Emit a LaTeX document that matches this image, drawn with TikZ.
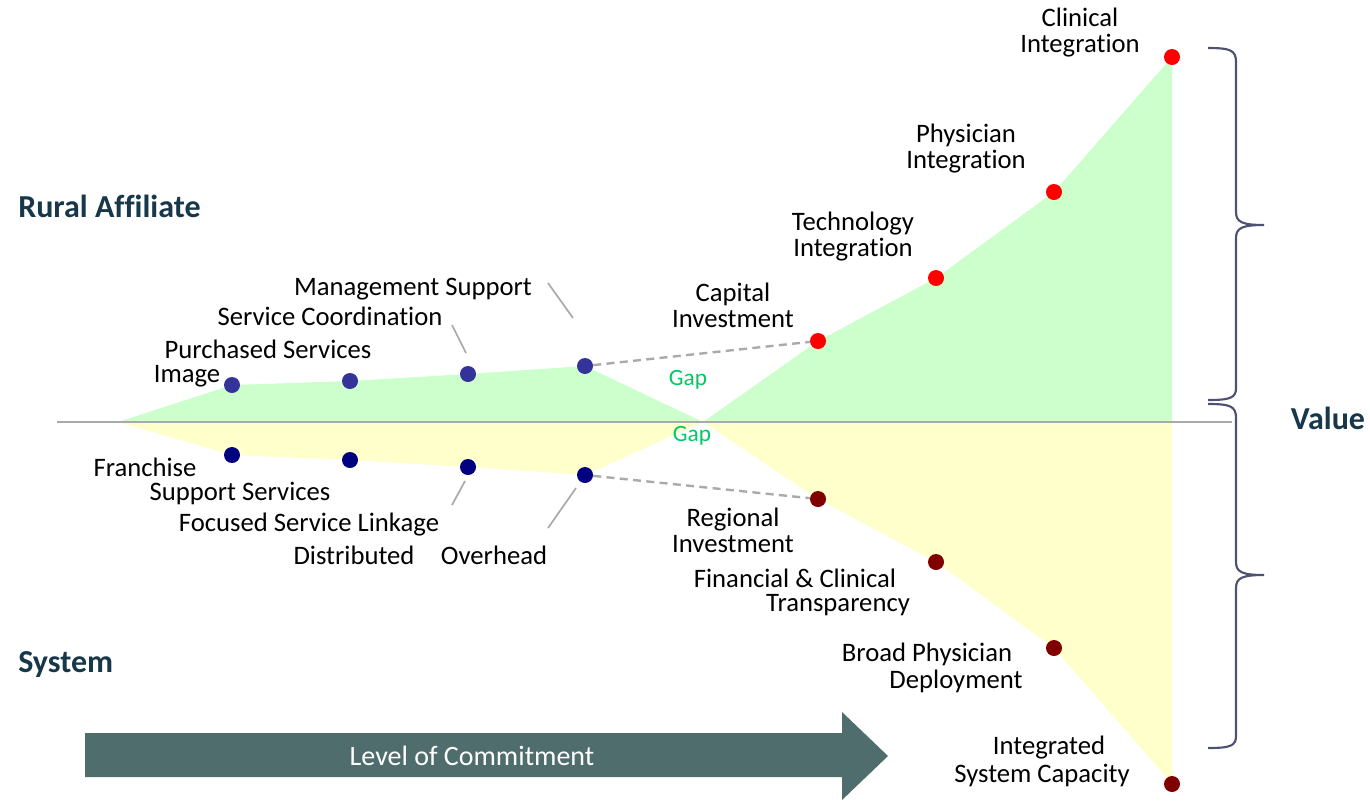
\documentclass[tikz,border=0pt]{standalone}
\usepackage{fontspec}
\setmainfont{Carlito}[Ligatures=NoCommon]
\definecolor{upfill}{RGB}{204,255,204}
\definecolor{lowfill}{RGB}{255,255,204}
\definecolor{affdot}{RGB}{51,51,153}
\definecolor{sysdot}{RGB}{0,0,128}
\definecolor{reddot}{RGB}{255,0,0}
\definecolor{maroondot}{RGB}{128,0,0}
\definecolor{headcol}{RGB}{23,55,74}
\definecolor{gapcol}{RGB}{0,200,100}
\definecolor{arrowcol}{RGB}{79,109,109}
\definecolor{bracecol}{RGB}{77,82,117}
\definecolor{leadcol}{RGB}{170,170,170}
\begin{document}
\begin{tikzpicture}[x=0.75pt,y=-0.75pt,
  dot/.style={circle,inner sep=0pt,minimum size=12pt},
  lbl/.style={font=\fontsize{20pt}{19.5pt}\selectfont,align=center,inner sep=0pt},
  head/.style={font=\bfseries\fontsize{24pt}{26pt}\selectfont,text=headcol,inner sep=0pt},
  gaplbl/.style={font=\fontsize{17.5pt}{19pt}\selectfont,text=gapcol,inner sep=0pt},
  lead/.style={draw=leadcol,line width=1.3pt},
  dashlead/.style={draw=leadcol,line width=1.8pt,dash pattern=on 6pt off 4pt},
  bracepath/.style={draw=bracecol,line width=1.6pt}]
\useasboundingbox (0,0) rectangle (1370,801);

% shaded bands
\fill[upfill] (118,422) -- (232,385) -- (350,381) -- (468,374) -- (585,366) -- (703,422)
  -- (818,341) -- (936,278) -- (1054,192) -- (1172,57) -- (1172,422) -- cycle;
\fill[lowfill] (118,422) -- (232,455) -- (350,460) -- (468,467) -- (585,475) -- (703,422)
  -- (818,499) -- (936,562) -- (1054,648) -- (1172,784) -- (1172,422) -- cycle;

% centre axis
\coordinate (axL) at (57,422);
\coordinate (axR) at (1232,422);
\draw[leadcol,line width=0.8pt] (axL) -- (axR);

% milestone dots
\node[dot,fill=affdot] (a1) at (232,385) {};
\node[dot,fill=affdot] (a2) at (350,381) {};
\node[dot,fill=affdot] (a3) at (468,374) {};
\node[dot,fill=affdot] (a4) at (585,366) {};
\node[dot,fill=reddot] (r1) at (818,341) {};
\node[dot,fill=reddot] (r2) at (936,278) {};
\node[dot,fill=reddot] (r3) at (1054,192) {};
\node[dot,fill=reddot] (r4) at (1172,57) {};
\node[dot,fill=sysdot] (s1) at (232,455) {};
\node[dot,fill=sysdot] (s2) at (350,460) {};
\node[dot,fill=sysdot] (s3) at (468,467) {};
\node[dot,fill=sysdot] (s4) at (585,475) {};
\node[dot,fill=maroondot] (m1) at (818,499) {};
\node[dot,fill=maroondot] (m2) at (936,562) {};
\node[dot,fill=maroondot] (m3) at (1054,648) {};
\node[dot,fill=maroondot] (m4) at (1172,784) {};

% dashed gap links
\draw[dashlead] (a4) -- (r1);
\draw[dashlead] (s4) -- (m1);

% leader lines
\coordinate (ldMS) at (548,283);
\coordinate (ldMSe) at (573,318);
\coordinate (ldSC) at (452,325);
\coordinate (ldSCe) at (466,353);
\coordinate (ldFS) at (452,505);
\coordinate (ldFSe) at (465,481);
\coordinate (ldOH) at (548,528);
\coordinate (ldOHe) at (576,488);
\draw[lead] (ldMS) -- (ldMSe);
\draw[lead] (ldSC) -- (ldSCe);
\draw[lead] (ldFS) -- (ldFSe);
\draw[lead] (ldOH) -- (ldOHe);

% upper labels
\node[lbl] (tCI) at (1080,33) {Clinical\\Integration};
\node[lbl] (tPI) at (966,149) {Physician\\Integration};
\node[lbl] (tTI) at (853,237) {Technology\\Integration};
\node[lbl] (tCap) at (733,305) {Capital\\Investment};
\node[lbl] (tMS) at (413,289) {Management Support};
\node[lbl] (tSC) at (330,316) {Service Coordination};
\node[lbl] (tPS) at (268,349) {Purchased Services};
\node[lbl] (tIm) at (187,376) {Image};
\node[gaplbl] (g1) at (688,380) {Gap};
\node[gaplbl] (g2) at (692,436) {Gap};

% lower labels
\node[lbl] (tFr) at (145,467) {Franchise};
\node[lbl] (tSS) at (240,493) {Support Services};
\node[lbl] (tFSL) at (309,525) {Focused Service Linkage};
\node[lbl] (tDi) at (354,555) {Distributed};
\node[lbl] (tOH) at (494,555) {Overhead};
\node[lbl] (tRI) at (733,530) {Regional\\Investment};
\node[lbl] (tFC1) at (795,578) {Financial \& Clinical};
\node[lbl] (tFC2) at (838,605) {Transparency};
\node[lbl] (tBP1) at (927,654) {Broad Physician};
\node[lbl] (tBP2) at (956,681) {Deployment};
\node[lbl] (tIS1) at (1049,748) {Integrated};
\node[lbl] (tIS2) at (1042,775) {System Capacity};

% side headings
\node[head,anchor=west] (hRA) at (18,206) {Rural Affiliate};
\node[head,anchor=west] (hSy) at (18,665) {System};
\node[head] (hVa) at (1328,418) {Value};

% commitment arrow
\fill[arrowcol] (85,733) -- (842,733) -- (842,712) -- (888,756) -- (842,800) -- (842,777) -- (85,777) -- cycle;
\node[font=\fontsize{21pt}{23pt}\selectfont,text=white,inner sep=0pt] (tLC) at (472,756) {Level of Commitment};

% value braces
\draw[bracepath] (1208,48) .. controls (1230,48) and (1236,50) .. (1236,62)
  -- (1236,212) .. controls (1236,222) and (1242,225) .. (1264,225)
  .. controls (1242,225) and (1236,228) .. (1236,238)
  -- (1236,388) .. controls (1236,398) and (1230,400) .. (1208,400);
\draw[bracepath] (1208,404) .. controls (1230,404) and (1236,406) .. (1236,418)
  -- (1236,562) .. controls (1236,572) and (1242,575) .. (1264,575)
  .. controls (1242,575) and (1236,578) .. (1236,588)
  -- (1236,736) .. controls (1236,746) and (1230,748) .. (1208,748);
\end{tikzpicture}
\end{document}
